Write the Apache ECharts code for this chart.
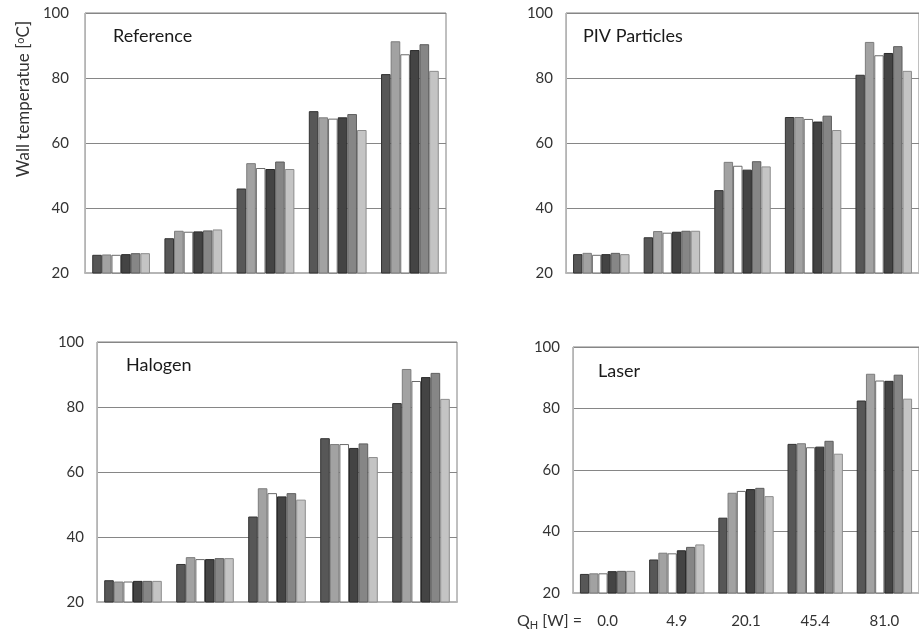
<!DOCTYPE html>
<html>
<head>
<meta charset="utf-8">
<script src="https://cdn.jsdelivr.net/npm/echarts@6/dist/echarts.min.js"></script>
<style>
  html, body { margin: 0; padding: 0; background: #fff; }
  #chart { width: 919px; height: 635px; }
</style>
</head>
<body>
<div id="chart"></div>
<script>
// Heat input levels (shared x categories)
const categories = ['0.0', '4.9', '20.1', '45.4', '81.0'];
const yTicks = [20, 40, 60, 80, 100];
const panelNames = ['Reference', 'PIV Particles', 'Halogen', 'Laser'];

// Wall temperature [°C], one row per bar series (six sensors), one value per heat input
const reference = [
  [25.6, 30.7, 46.0, 69.8, 81.2],
  [25.7, 33.0, 53.8, 67.9, 91.3],
  [25.6, 32.7, 52.3, 67.5, 87.3],
  [25.8, 32.8, 52.0, 67.9, 88.6],
  [26.1, 33.1, 54.3, 68.9, 90.4],
  [26.1, 33.4, 52.0, 64.0, 82.2]
];
const pivParticles = [
  [25.8, 31.0, 45.5, 68.0, 81.0],
  [26.2, 32.9, 54.2, 68.0, 91.1],
  [25.6, 32.4, 53.0, 67.4, 87.0],
  [25.8, 32.7, 51.8, 66.6, 87.7],
  [26.2, 33.0, 54.4, 68.4, 89.8],
  [25.8, 33.0, 52.8, 64.0, 82.2]
];
const halogen = [
  [26.7, 31.7, 46.3, 70.4, 81.2],
  [26.3, 33.8, 55.0, 68.6, 91.7],
  [26.3, 33.2, 53.5, 68.6, 88.0],
  [26.5, 33.2, 52.5, 67.4, 89.2],
  [26.5, 33.5, 53.5, 68.8, 90.5],
  [26.5, 33.5, 51.5, 64.6, 82.5]
];
const laser = [
  [26.2, 30.9, 44.5, 68.5, 82.6],
  [26.4, 33.1, 52.6, 68.7, 91.3],
  [26.4, 32.9, 53.2, 67.4, 89.1],
  [27.1, 33.9, 53.8, 67.6, 89.0],
  [27.2, 35.0, 54.2, 69.5, 91.0],
  [27.2, 35.8, 51.5, 65.3, 83.2]
];
const panels = [reference, pivParticles, halogen, laser];

// Bar fill and edge shades for the six series
const fills = ['#575757', '#a2a2a2', '#ffffff', '#444444', '#868686', '#c4c4c4'];
const edges = ['#333333', '#7c7c7c', '#6a6a6a', '#2a2a2a', '#5e5e5e', '#8c8c8c'];

// Plot rectangles of the four panels
const grids = [
  { left: 85,  top: 13,  width: 361, height: 260 },
  { left: 566, top: 13,  width: 361, height: 260 },
  { left: 97,  top: 342, width: 360, height: 260 },
  { left: 573, top: 347, width: 361, height: 246 }
];
const titlePos = [
  { left: 113, top: 27 },
  { left: 583, top: 27 },
  { left: 126, top: 356 },
  { left: 598, top: 362 }
];

const FONT = 'Lato, "Open Sans", sans-serif';

const option = {
  animation: false,
  backgroundColor: '#ffffff',
  title: panelNames.map((name, i) => ({
    text: name,
    left: titlePos[i].left,
    top: titlePos[i].top,
    padding: 0,
    textStyle: { fontFamily: FONT, fontSize: 18, fontWeight: 'normal', color: '#1a1a1a' }
  })),
  grid: grids.map(g => Object.assign({
    show: true,
    borderColor: '#808080',
    borderWidth: 1,
    containLabel: false
  }, g)),
  xAxis: grids.map((g, i) => ({
    type: 'category',
    gridIndex: i,
    data: categories,
    axisLine: { show: true, lineStyle: { color: '#b5b5b5', width: 2 } },
    axisTick: { show: false },
    axisLabel: {
      show: i === 3,
      margin: 21,
      fontFamily: FONT,
      fontSize: 15,
      color: '#333333'
    },
    splitLine: { show: false }
  })),
  yAxis: grids.map((g, i) => ({
    type: 'value',
    gridIndex: i,
    min: yTicks[0],
    max: yTicks[yTicks.length - 1],
    interval: 20,
    axisLine: { show: true, lineStyle: { color: '#b5b5b5' } },
    axisTick: { show: false },
    axisLabel: {
      margin: i === 0 ? 16 : 13,
      fontFamily: FONT,
      fontSize: 15,
      color: '#333333'
    },
    splitLine: { show: true, lineStyle: { color: '#868686' } }
  })),
  series: [],
  graphic: [
    {
      type: 'text',
      x: 24, y: 99,
      rotation: Math.PI / 2,
      style: {
        text: 'Wall temperatue [{sup|o}C]',
        align: 'center',
        verticalAlign: 'middle',
        fontFamily: FONT,
        fontSize: 17,
        fill: '#333333',
        rich: {
          sup: { fontFamily: FONT, fontSize: 11, verticalAlign: 'top', padding: [0, 0, 7, 0], fill: '#333333' }
        }
      }
    },
    {
      type: 'text',
      x: 517, y: 621,
      style: {
        text: 'Q{sub|H} [W] =',
        verticalAlign: 'middle',
        fontFamily: FONT,
        fontSize: 16,
        fill: '#333333',
        rich: {
          sub: { fontFamily: FONT, fontSize: 11, padding: [8, 0, 0, 0], fill: '#333333' }
        }
      }
    }
  ]
};

panels.forEach((rows, p) => {
  rows.forEach((vals, s) => {
    option.series.push({
      type: 'bar',
      xAxisIndex: p,
      yAxisIndex: p,
      data: vals,
      barGap: '0%',
      barCategoryGap: '20%',
      itemStyle: { color: fills[s], borderColor: edges[s], borderWidth: 1 }
    });
  });
});

const chart = echarts.init(document.getElementById('chart'), null, { renderer: 'canvas' });
chart.setOption(option);
</script>
</body>
</html>
